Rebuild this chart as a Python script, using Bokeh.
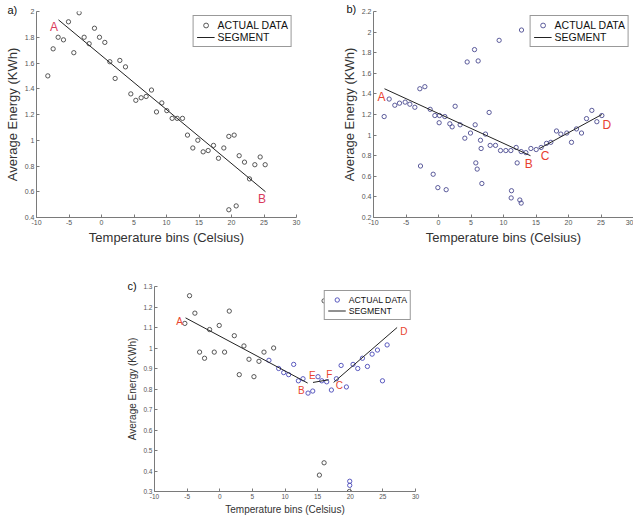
from bokeh.plotting import figure
from bokeh.layouts import column, row
from bokeh.models import FixedTicker, CustomJSTickFormatter, Range1d, Spacer, Legend, LegendItem
from bokeh.core.properties import value
from bokeh.embed import file_html
from bokeh.resources import INLINE

# ---------------- data ----------------
x_ticks = [-10, -5, 0, 5, 10, 15, 20, 25, 30]

# panel a
a_temp = [-8.26, -7.44, -6.67, -5.85, -5.08, -4.26, -3.44, -2.67, -1.90, -1.08, -0.31, 0.51, 1.28,
          2.10, 2.82, 3.69, 4.51, 5.28, 6.10, 6.87, 7.69, 8.46, 9.28, 10.05, 10.87, 11.64, 12.46,
          13.23, 14.05, 14.82, 15.64, 16.41, 17.23, 18.0, 18.82, 19.59, 19.59, 20.41, 20.72, 21.18,
          22.0, 22.77, 23.59, 24.41, 25.18]
a_energy = [1.50, 1.71, 1.80, 1.78, 1.92, 1.68, 1.99, 1.80, 1.75, 1.87, 1.80, 1.76, 1.61,
            1.48, 1.62, 1.57, 1.36, 1.31, 1.33, 1.34, 1.39, 1.22, 1.29, 1.23, 1.17, 1.17, 1.17,
            1.04, 0.94, 1.00, 0.91, 0.92, 0.96, 0.86, 0.94, 1.03, 0.46, 1.04, 0.49, 0.88,
            0.83, 0.70, 0.81, 0.87, 0.81]
a_seg_x = [-6.62, 25.23]
a_seg_y = [1.935, 0.60]
a_lab = ["A", "B"]
a_lab_x = [-7.3, 24.7]
a_lab_y = [1.88, 0.54]
a_yticks = [0.4, 0.6, 0.8, 1.0, 1.2, 1.4, 1.6, 1.8, 2.0]

# panel b
b_temp = [-8.36, -7.59, -6.72, -6.0, -5.13, -4.41, -3.64, -2.87, -2.77, -2.10, -1.28, -0.82, -0.56,
          -0.10, 0.15, 0.10, 0.97, 1.18, 1.74, 2.10, 2.56, 3.33, 4.05, 4.41, 4.92, 5.54, 5.64, 5.74,
          5.95, 6.10, 6.46, 6.56, 6.67, 7.23, 7.79, 7.95, 8.77, 9.33, 9.54, 10.36, 11.13, 11.23,
          11.18, 11.95, 12.10, 12.51, 12.72, 12.72, 12.77, 13.44, 14.21, 15.03, 15.79, 16.62,
          17.28, 18.15, 18.82, 19.74, 20.46, 21.23, 22.0, 22.77, 23.59, 24.36, 25.13]
b_energy = [1.18, 1.35, 1.29, 1.31, 1.32, 1.30, 1.27, 1.45, 0.70, 1.47, 1.25, 0.62, 1.19,
            0.49, 1.19, 1.12, 1.18, 0.47, 1.11, 1.08, 1.28, 1.10, 0.97, 1.71, 1.02, 1.83, 1.10, 0.73,
            0.67, 1.72, 0.95, 0.87, 0.53, 1.01, 1.22, 0.90, 0.90, 1.92, 0.85, 0.85, 0.85, 0.46,
            0.39, 0.88, 0.73, 0.37, 0.84, 0.34, 2.02, 0.83, 0.87, 0.86, 0.88, 0.92,
            0.93, 1.04, 1.01, 1.02, 0.93, 1.06, 1.02, 1.16, 1.24, 1.13, 1.19]
b_seg1_x = [-8.31, 14.15]
b_seg1_y = [1.45, 0.80]
b_seg2_x = [15.54, 25.13]
b_seg2_y = [0.87, 1.20]
b_lab = ["A", "B", "C", "D"]
b_lab_x = [-8.77, 13.9, 16.4, 25.9]
b_lab_y = [1.37, 0.72, 0.80, 1.10]
b_yticks = [0.2, 0.4, 0.6, 0.8, 1.0, 1.2, 1.4, 1.6, 1.8, 2.0, 2.2]

# panel c
c_black_temp = [-5.35, -4.63, -3.81, -3.09, -2.33, -1.56, -0.84, -0.08, 0.74, 1.46, 2.23, 2.99,
                3.71, 4.48, 5.24, 6.01, 6.78, 8.26, 15.27, 15.99, 15.99, 19.87]
c_black_energy = [1.12, 1.255, 1.17, 0.98, 0.95, 1.09, 0.98, 1.11, 0.98, 1.18, 1.06, 0.87,
                  1.01, 0.945, 0.86, 0.935, 0.98, 1.0, 0.38, 1.23, 0.44, 0.30]
c_blue_temp = [7.54, 9.03, 9.80, 10.56, 11.33, 12.05, 12.76, 13.53, 14.25, 15.06, 15.63, 16.39,
               17.11, 17.88, 18.60, 19.41, 19.92, 19.92, 20.43, 21.15, 21.87, 22.63, 23.35, 24.17,
               24.94, 25.65]
c_blue_energy = [0.94, 0.90, 0.88, 0.87, 0.92, 0.84, 0.85, 0.78, 0.79, 0.86, 0.84, 0.835,
                 0.795, 0.85, 0.915, 0.81, 0.35, 0.33, 0.92, 0.90, 0.95, 0.91, 0.97, 0.99,
                 0.84, 1.015]
c_seg1_x = [-5.24, 13.47]
c_seg1_y = [1.147, 0.829]
c_seg2_x = [14.29, 16.69]
c_seg2_y = [0.832, 0.845]
c_seg3_x = [17.45, 27.18]
c_seg3_y = [0.832, 1.10]
c_lab = ["A", "B", "E", "F", "C", "D"]
c_lab_x = [-6.16, 12.5, 14.19, 16.8, 18.33, 28.2]
c_lab_y = [1.13, 0.795, 0.865, 0.871, 0.816, 1.08]
c_yticks = [0.3, 0.4, 0.5, 0.6, 0.7, 0.8, 0.9, 1.0, 1.1, 1.2, 1.3]

FONT = "Liberation Sans"
fmt = CustomJSTickFormatter(code="return (Math.round(tick*100)/100).toString();")


def make_fig(w, h, yr, yticks, ml, mr, mt, mb, lab_size, tick_size, tag, tag_offset, tag_standoff):
    p = figure(width=w, height=h, x_range=Range1d(-10, 30), y_range=Range1d(*yr),
               output_backend="svg", toolbar_location=None,
               min_border_left=ml, min_border_right=mr, min_border_top=mt, min_border_bottom=mb)
    p.outline_line_color = None
    p.xgrid.visible = False
    p.ygrid.visible = False
    p.background_fill_color = "white"
    p.border_fill_color = "white"
    p.title.text = tag
    p.title.align = "left"
    p.title.offset = tag_offset
    p.title.standoff = tag_standoff
    p.title.text_font = FONT
    p.title.text_font_size = "11px"
    p.title.text_font_style = "normal"
    p.title.text_color = "#111111"
    p.xaxis.ticker = FixedTicker(ticks=x_ticks)
    p.yaxis.ticker = FixedTicker(ticks=yticks)
    p.xaxis.formatter = fmt
    p.yaxis.formatter = fmt
    for ax in (p.xaxis[0], p.yaxis[0]):
        ax.axis_line_color = "#7a7a7a"
        ax.major_tick_line_color = "#7a7a7a"
        ax.major_tick_in = 3
        ax.major_tick_out = 0
        ax.minor_tick_line_color = None
        ax.major_label_text_font = FONT
        ax.major_label_text_font_size = tick_size
        ax.major_label_text_color = "#555555"
        ax.major_label_standoff = 2
        ax.axis_label_text_font = FONT
        ax.axis_label_text_font_size = lab_size
        ax.axis_label_text_font_style = "normal"
        ax.axis_label_text_color = "#333333"
        ax.axis_label_standoff = 2
    p.xaxis.axis_label = "Temperature bins (Celsius)"
    p.yaxis.axis_label = "Average Energy (KWh)"
    return p


def add_legend(p, pts, seg, fsize, lh):
    leg = Legend(items=[LegendItem(label="ACTUAL DATA", renderers=[pts]),
                        LegendItem(label="SEGMENT", renderers=[seg])],
                 location="top_right")
    leg.margin = 4
    leg.padding = 3
    leg.spacing = 0
    leg.label_text_font = FONT
    leg.label_text_font_size = fsize
    leg.label_text_color = "#111111"
    leg.label_height = lh
    leg.glyph_height = lh
    leg.glyph_width = 18
    leg.label_standoff = 3
    leg.border_line_color = "#333333"
    leg.border_line_width = 1
    leg.background_fill_alpha = 1
    leg.background_fill_color = "white"
    p.add_layout(leg)


def add_labels(p, xs, ys, texts, color, size):
    p.text(x=xs, y=ys, text=texts, text_color=color, text_font=value(FONT),
           text_font_size=value(size), text_align="center", text_baseline="middle")


MS = 4.3

# ---------------- panel a ----------------
fa = make_fig(310, 270, (0.4, 2.0), a_yticks, 36, 14, 11, 53, "13px", "7px", "a)", -29, -8)
pa = fa.scatter(a_temp, a_energy, marker="circle", size=MS, fill_color=None,
                line_color="#444444", line_width=0.9)
la = fa.line(a_seg_x, a_seg_y, line_color="#222222", line_width=1)
add_labels(fa, a_lab_x, a_lab_y, a_lab, "#d93a5c", "12px")
add_legend(fa, pa, la, "10.5px", 12)

# ---------------- panel b ----------------
fb = make_fig(323, 270, (0.2, 2.2), b_yticks, 63, 0, 11, 53, "13px", "7px", "b)", -27, -6)
pb = fb.scatter(b_temp, b_energy, marker="circle", size=MS, fill_color=None,
                line_color="#4a4a90", line_width=0.9)
lb = fb.line(b_seg1_x, b_seg1_y, line_color="#222222", line_width=1)
fb.line(b_seg2_x, b_seg2_y, line_color="#222222", line_width=1)
add_labels(fb, b_lab_x, b_lab_y, b_lab, "#e8402f", "12px")
add_legend(fb, pb, lb, "10.5px", 12)

# ---------------- panel c ----------------
fc = make_fig(320, 247, (0.3, 1.3), c_yticks, 34, 25, 16, 24, "10px", "6.5px", "c)", -27, -11)
fc.scatter(c_black_temp, c_black_energy, marker="circle", size=MS, fill_color=None,
           line_color="#444444", line_width=0.9)
pc = fc.scatter(c_blue_temp, c_blue_energy, marker="circle", size=MS, fill_color=None,
                line_color="#4848b8", line_width=0.9)
lc = fc.line(c_seg1_x, c_seg1_y, line_color="#222222", line_width=1)
fc.line(c_seg2_x, c_seg2_y, line_color="#222222", line_width=1)
fc.line(c_seg3_x, c_seg3_y, line_color="#222222", line_width=1)
add_labels(fc, c_lab_x, c_lab_y, c_lab, "#e8452f", "10px")
add_legend(fc, pc, lc, "8.7px", 11)

layout = column(row(fa, fb), row(Spacer(width=120, height=247), fc))

open("out.html", "w").write(file_html(layout, INLINE))
